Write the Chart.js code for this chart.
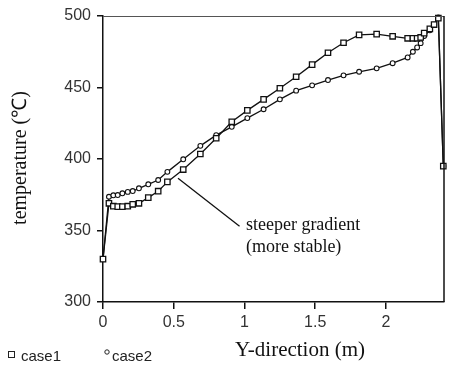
<!DOCTYPE html>
<html>
<head>
<meta charset="utf-8">
<script src="https://cdn.jsdelivr.net/npm/chart.js@4.4.1/dist/chart.umd.min.js"></script>
<style>
  html, body { margin: 0; padding: 0; background: #fff; }
  #wrap { width: 451px; height: 367px; }
</style>
</head>
<body>
<div id="wrap"><canvas id="tempChart" width="451" height="367"></canvas></div>
<script>
// ==================================== data

const positions = [0, 0.042, 0.073, 0.104, 0.137, 0.175, 0.21, 0.254, 0.32, 0.39, 0.455, 0.567, 0.688, 0.80, 0.91, 1.02, 1.135, 1.25, 1.365, 1.478, 1.59, 1.70, 1.81, 1.934, 2.047, 2.153, 2.19, 2.22, 2.245, 2.27, 2.31, 2.34, 2.37, 2.405]
const case1Temps = [330, 369, 367, 366.7, 366.7, 367, 368.3, 369, 373, 377.5, 384, 392.6, 403.5, 414.5, 426, 434, 441.7, 449.5, 457.5, 466, 474.3, 481.3, 486.8, 487.3, 485.8, 484.4, 484.4, 484.4, 485, 488, 491, 494, 498.5, 395]
const case2Temps = [330, 373.6, 374.6, 374.8, 376, 377, 377.6, 379.5, 382.3, 385.3, 391, 399.8, 409.2, 416.7, 422.5, 428.6, 434.8, 441.7, 447.8, 451.5, 455.2, 458.5, 461, 463.4, 467, 471, 475, 478, 481, 486, 490, 494, 499, 395]
const xTickValues = [0, 0.5, 1, 1.5, 2]
const yTickValues = [300, 350, 400, 450, 500]
const seriesLabels = ['case1', 'case2']

const xTitle = 'Y-direction (m)'
const yTitle = 'temperature (℃)'
const noteLines = ['steeper gradient', '(more stable)']

// ==================================== chart

const myCanvas = document.querySelector('#tempChart')
const ctx = myCanvas.getContext('2d')

const toPoints = temps => positions.map((x, i) => ({ x, y: temps[i] }))

// frame, titles, legend and the annotation
const extrasPlugin = {
    id: 'extras',
    afterDraw(chart) {
        const { ctx, chartArea: a, scales } = chart
        ctx.save()

        // box round the plot
        ctx.strokeStyle = '#555'
        ctx.lineWidth = 1
        ctx.beginPath()
        ctx.moveTo(a.left, a.top + 0.5)
        ctx.lineTo(a.right, a.top + 0.5)
        ctx.stroke()
        ctx.strokeStyle = '#111'
        ctx.lineWidth = 1.5
        ctx.beginPath()
        ctx.moveTo(a.right, a.top)
        ctx.lineTo(a.right, a.bottom)
        ctx.stroke()

        // annotation arrow line
        const x0 = scales.x.getPixelForValue(0.53)
        const y0 = scales.y.getPixelForValue(386.5)
        const x1 = scales.x.getPixelForValue(0.965)
        const y1 = scales.y.getPixelForValue(353)
        ctx.strokeStyle = '#111'
        ctx.lineWidth = 1.3
        ctx.beginPath()
        ctx.moveTo(x0, y0)
        ctx.lineTo(x1, y1)
        ctx.stroke()

        ctx.fillStyle = '#111'
        ctx.font = '18px "Liberation Serif", serif'
        ctx.textAlign = 'left'
        ctx.textBaseline = 'alphabetic'
        const tx = scales.x.getPixelForValue(1.01)
        ctx.fillText(noteLines[0], tx, scales.y.getPixelForValue(350.3))
        ctx.fillText(noteLines[1], tx, scales.y.getPixelForValue(335))

        // axis titles
        ctx.font = '21px "Liberation Serif", serif'
        ctx.textAlign = 'center'
        ctx.textBaseline = 'middle'
        ctx.fillText(xTitle, 300, 350)
        ctx.font = '20px "Liberation Serif", serif'
        ctx.save()
        ctx.translate(21, 158)
        ctx.rotate(-Math.PI / 2)
        ctx.fillText(yTitle, 0, 0)
        ctx.restore()

        // legend
        ctx.font = '15px "Liberation Sans", sans-serif'
        ctx.textAlign = 'left'
        ctx.fillStyle = '#222'
        ctx.fillText(seriesLabels[0], 21, 357)
        ctx.fillText(seriesLabels[1], 112, 357)
        ctx.strokeStyle = '#222'
        ctx.lineWidth = 1
        ctx.strokeRect(8.5, 351.5, 6, 6)
        ctx.beginPath()
        ctx.arc(107, 352, 2.2, 0, Math.PI * 2)
        ctx.stroke()

        ctx.restore()
    }
}

const data = {
    datasets: [
        {
            label: seriesLabels[0],
            data: toPoints(case1Temps),
            clip: false,
            borderColor: '#111',
            borderWidth: 1.3,
            pointStyle: 'rect',
            pointRadius: 3.8,
            pointBorderWidth: 1.3,
            pointBackgroundColor: '#fff',
            pointBorderColor: '#111',
        },
        {
            label: seriesLabels[1],
            data: toPoints(case2Temps),
            clip: false,
            borderColor: '#111',
            borderWidth: 1.3,
            pointStyle: 'circle',
            pointRadius: 2.4,
            pointBorderWidth: 1.1,
            pointBackgroundColor: '#fff',
            pointBorderColor: '#111',
        }
    ]
}

const config = {
    type: 'line',
    data,
    options: {
        responsive: false,
        animation: false,
        layout: {
            padding: { left: 0, right: 7, top: 16, bottom: 0 }
        },
        plugins: {
            legend: { display: false },
            tooltip: { enabled: false }
        },
        scales: {
            x: {
                type: 'linear',
                min: 0,
                max: 2.41,
                afterBuildTicks: scale => {
                    scale.ticks = xTickValues.map(value => ({ value }))
                },
                afterFit: scale => { scale.height = 65 },
                ticks: {
                    color: '#333',
                    font: { family: '"Liberation Sans", sans-serif', size: 16 },
                    padding: 4,
                    callback: v => String(v)
                },
                grid: {
                    drawOnChartArea: false,
                    drawTicks: true,
                    tickLength: 7,
                    color: '#111',
                    lineWidth: 1.5
                },
                border: { display: true, color: '#111', width: 1.5 }
            },
            y: {
                type: 'linear',
                min: 300,
                max: 500,
                afterBuildTicks: scale => {
                    scale.ticks = yTickValues.map(value => ({ value }))
                },
                afterFit: scale => { scale.width = 103 },
                ticks: {
                    color: '#333',
                    font: { family: '"Liberation Sans", sans-serif', size: 16 },
                    padding: 6
                },
                grid: {
                    drawOnChartArea: false,
                    drawTicks: true,
                    tickLength: 6,
                    color: '#111',
                    lineWidth: 1.5
                },
                border: { display: true, color: '#111', width: 1.5 }
            }
        }
    },
    plugins: [extrasPlugin]
}

const myChart = new Chart(myCanvas, config)
</script>
</body>
</html>
